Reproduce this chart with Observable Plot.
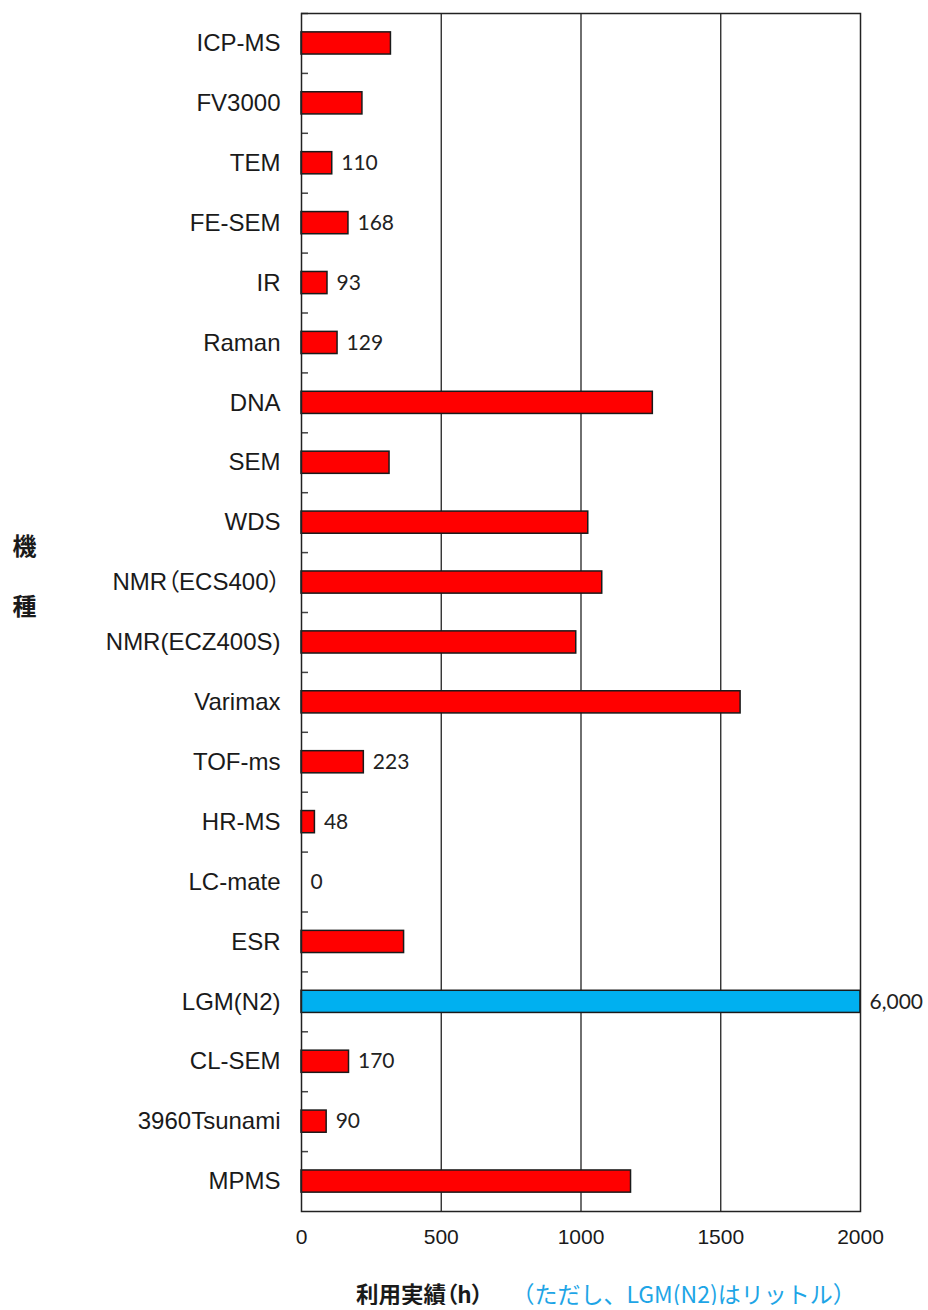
<!DOCTYPE html>
<html>
<head>
<meta charset="utf-8">
<script src="https://cdn.jsdelivr.net/npm/d3@7"></script>
<script src="https://cdn.jsdelivr.net/npm/@observablehq/plot@0.6"></script>
<style>
  body { margin: 0; background: #fff; }
  #chart svg text { font-feature-settings: "palt"; }
  .xtitle {
    margin-top: 19px;
    padding-left: 356px;
    font-family: "Noto Sans CJK JP", sans-serif;
    font-size: 22.5px;
    line-height: 24px;
    white-space: nowrap;
  }
  .xtitle .main { color: #1a1a1a; font-weight: bold; font-feature-settings: "palt"; }
  .xtitle .note { color: #1ea5e6; margin-left: 40px; font-size: 23px; }
</style>
</head>
<body>
<div id="chart"></div>
<div class="xtitle"><span class="main">利用実績（h）</span><span class="note">（ただし、LGM(N2)はリットル）</span></div>
<script>
// Instruments, top to bottom
const categories = [
  "ICP-MS", "FV3000", "TEM", "FE-SEM", "IR", "Raman", "DNA", "SEM", "WDS",
  "NMR（ECS400）", "NMR(ECZ400S)", "Varimax", "TOF-ms", "HR-MS", "LC-mate",
  "ESR", "LGM(N2)", "CL-SEM", "3960Tsunami", "MPMS"
];
// Usage per instrument (hours; LGM(N2) is in litres)
const hours = [
  320, 218, 110, 168, 93, 129, 1257, 315, 1026,
  1076, 983, 1571, 223, 48, 0,
  367, 6000, 170, 90, 1179
];
// Instruments whose value is printed beside the bar
const labeledCategories = [
  "TEM", "FE-SEM", "IR", "Raman", "TOF-ms", "HR-MS", "LC-mate",
  "LGM(N2)", "CL-SEM", "3960Tsunami"
];
// The one instrument measured in litres
const literCategory = "LGM(N2)";
const xTicks = [0, 500, 1000, 1500, 2000];
const gridValues = [500, 1000, 1500];

const rows = categories.map((name, i) => ({
  name,
  value: hours[i],
  unit: name === literCategory ? "liter" : "hour",
  labeled: labeledCategories.includes(name)
}));

const width = 928, height = 1262;
const marginTop = 13, marginBottom = 51, marginLeft = 301, marginRight = 68;
const step = (height - marginTop - marginBottom) / categories.length;

const latin = "'Liberation Sans', 'Noto Sans CJK JP', sans-serif";

const chart = Plot.plot({
  width, height, marginTop, marginBottom, marginLeft, marginRight,
  style: { fontFamily: latin, color: "#1a1a1a", background: "#fff" },
  x: { domain: [0, 2000], clamp: true, label: null },
  y: { domain: categories, paddingInner: 0.63, paddingOuter: 0.315, round: false, label: null },
  color: { domain: ["hour", "liter"], range: ["#ff0000", "#00b0f0"] },
  marks: [
    Plot.ruleX(gridValues, { stroke: "#222", strokeWidth: 1.3 }),
    // short inward ticks on the category boundaries
    Plot.ruleY(categories, { y: d => d, x1: 0, x2: 25, dy: -step / 2, stroke: "#444", strokeWidth: 1.5 }),
    Plot.barX(rows, { y: "name", x: "value", fill: "unit", stroke: "#1a1a1a", strokeWidth: 1.5 }),
    Plot.text(rows.filter(d => d.labeled), {
      y: "name", x: "value", text: d => d3.format(",")(d.value),
      textAnchor: "start", dx: 9, fontFamily: "Lato", fontSize: 21, fill: "#222"
    }),
    Plot.frame({ stroke: "#222", strokeWidth: 1.5 }),
    Plot.axisX({ ticks: xTicks, tickFormat: d => String(d), tickSize: 0, tickPadding: 18, fontSize: 21, label: null }),
    Plot.axisY({ tickSize: 0, tickPadding: 21, fontSize: 24, label: null, stroke: "#1a1a1a", strokeWidth: 0.5 }),
    Plot.text(["機\n種"], {
      frameAnchor: "left", dx: -277, dy: -47, lineHeight: 2.5,
      textAnchor: "middle", fontSize: 24, fontWeight: "bold",
      fontFamily: "'Noto Sans CJK JP', sans-serif", fill: "#1a1a1a"
    })
  ]
});

document.getElementById("chart").append(chart);
</script>
</body>
</html>
